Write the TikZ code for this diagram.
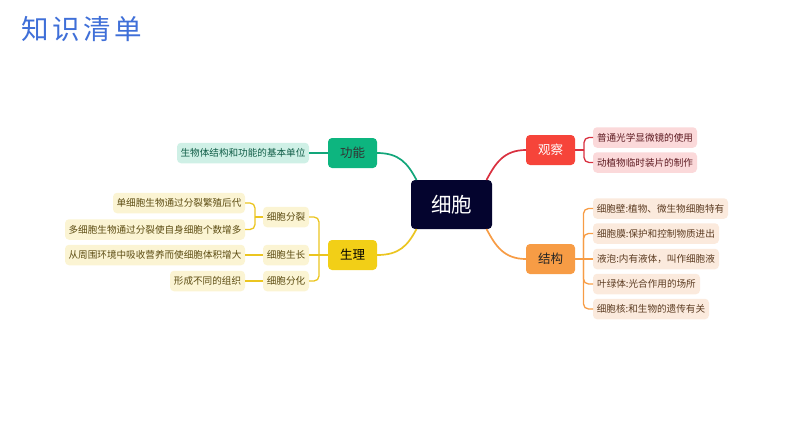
\documentclass[tikz,border=0pt]{standalone}
\usepackage{fontspec}
\setmainfont{Noto Sans CJK SC}
\definecolor{cGreen}{HTML}{0DB57F}
\definecolor{cYellow}{HTML}{F2CF17}
\definecolor{cRed}{HTML}{F6443A}
\definecolor{cOrange}{HTML}{F79C45}
\definecolor{cCenter}{HTML}{04042E}
\definecolor{lGreen}{HTML}{CFF0E6}
\definecolor{lYellow}{HTML}{FBF4D3}
\definecolor{lRed}{HTML}{FBD9DA}
\definecolor{lOrange}{HTML}{FBEADD}
\definecolor{tGreen}{HTML}{0F5C46}
\definecolor{tYellow}{HTML}{5C4C12}
\definecolor{tRed}{HTML}{5E1B22}
\definecolor{tOrange}{HTML}{5C3C22}
\definecolor{cTitle}{HTML}{3F6FD8}
\definecolor{eRed}{HTML}{D9303F}
\definecolor{eYellow}{HTML}{EBC520}
\definecolor{eGreen}{HTML}{12A67A}
\tikzset{
  x=1pt,y=-1pt,
  box/.style={rectangle,inner sep=0pt,outer sep=0pt,anchor=center},
  mainb/.style={box,rounded corners=4pt,minimum width=49pt,minimum height=30pt,font=\fontsize{12.5}{15}\selectfont},
  leaf/.style={box,rounded corners=4pt,minimum height=20.5pt,font=\fontsize{9.6}{12}\selectfont},
  lgreen/.style={leaf,fill=lGreen,text=tGreen},
  lyellow/.style={leaf,fill=lYellow,text=tYellow},
  lred/.style={leaf,fill=lRed,text=tRed},
  lorange/.style={leaf,fill=lOrange,text=tOrange},
  trunk/.style={rounded corners=5pt,line width=1.3pt},
  limb/.style={line width=1.7pt},
}
\begin{document}
\begin{tikzpicture}
\useasboundingbox (0,0) rectangle (794,447);
\node[box,text=cTitle,font=\fontsize{27.5}{32}\selectfont] (title) at (81.5,29) {知\hspace{3.5pt}识\hspace{3.5pt}清\hspace{3.5pt}单};

\node[box,rounded corners=4pt,fill=cCenter,text=white,minimum width=81pt,minimum height=49pt,font=\fontsize{20.5}{24}\selectfont] (c) at (451.5,204.5) {细胞};
\node[mainb,fill=cGreen,text=black!80] (gn) at (352.5,153) {功能};
\node[mainb,fill=cYellow,text=black] (sl) at (352.5,255) {生理};
\node[mainb,fill=cRed,text=white] (gc) at (550.5,150) {观察};
\node[mainb,fill=cOrange,text=black!85] (jg) at (550.5,259) {结构};

\node[lgreen,minimum width=132pt] (g1) at (243,153) {生物体结构和功能的基本单位};

\node[lyellow,minimum width=46pt] (fl) at (286,217) {细胞分裂};
\node[lyellow,minimum width=46pt] (sz) at (286,255) {细胞生长};
\node[lyellow,minimum width=46pt] (fh) at (286,281) {细胞分化};
\node[lyellow,minimum width=132pt] (y1) at (179,203) {单细胞生物通过分裂繁殖后代};
\node[lyellow,minimum width=180pt] (y2) at (155,229.5) {多细胞生物通过分裂使自身细胞个数增多};
\node[lyellow,minimum width=180pt] (y3) at (155,255) {从周围环境中吸收营养而使细胞体积增大};
\node[lyellow,minimum width=75pt] (y4) at (207.5,281) {形成不同的组织};

\node[lred,minimum width=104pt] (r1) at (645,137.5) {普通光学显微镜的使用};
\node[lred,minimum width=104pt] (r2) at (645,162.5) {动植物临时装片的制作};

\node[lorange,minimum width=135pt] (o1) at (660.5,208.5) {细胞壁:植物、微生物细胞特有};
\node[lorange,minimum width=126pt] (o2) at (656,233.5) {细胞膜:保护和控制物质进出};
\node[lorange,minimum width=126pt] (o3) at (656,259) {液泡:内有液体，叫作细胞液};
\node[lorange,minimum width=107pt] (o4) at (646.5,284) {叶绿体:光合作用的场所};
\node[lorange,minimum width=116pt] (o5) at (651,309) {细胞核:和生物的遗传有关};

\coordinate (jr) at (319,255);
\coordinate (jf) at (255,217);
\coordinate (jo) at (583.5,259);
\coordinate (jc) at (584,150);

\draw[limb,eGreen] (c.145) .. controls +(-9,-17) and +(22,0) .. (gn.east);
\draw[limb,eYellow] (c.215) .. controls +(-9,17) and +(22,0) .. (sl.east);
\draw[limb,eRed] (c.35) .. controls +(9,-17) and +(-22,0) .. (gc.west);
\draw[limb,cOrange] (c.325) .. controls +(9,17) and +(-22,0) .. (jg.west);

\draw[trunk,eGreen] (gn.west) -- (g1.east);

\draw[trunk,eYellow] (sl.west) -- (sz.east);
\draw[trunk,eYellow] (jr) |- (fl.east);
\draw[trunk,eYellow] (jr) |- (fh.east);
\draw[trunk,eYellow] (fl.west) -- (jf);
\draw[trunk,eYellow] (jf) |- (y1.east);
\draw[trunk,eYellow] (jf) |- (y2.east);
\draw[trunk,eYellow] (sz.west) -- (y3.east);
\draw[trunk,eYellow] (fh.west) -- (y4.east);

\draw[trunk,eRed] (gc.east) -- (jc);
\draw[trunk,eRed] (jc) |- (r1.west);
\draw[trunk,eRed] (jc) |- (r2.west);

\draw[trunk,cOrange] (jg.east) -- (o3.west);
\draw[trunk,cOrange] (jo) |- (o1.west);
\draw[trunk,cOrange] (jo) |- (o2.west);
\draw[trunk,cOrange] (jo) |- (o4.west);
\draw[trunk,cOrange] (jo) |- (o5.west);
\end{tikzpicture}
\end{document}
